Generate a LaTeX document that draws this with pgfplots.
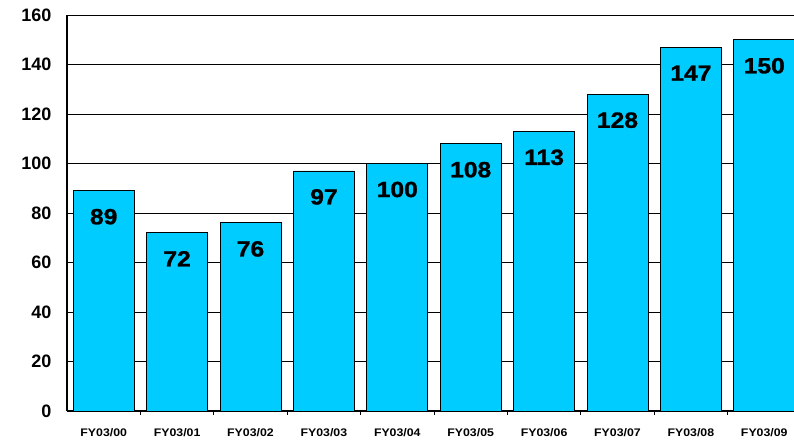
\documentclass[border=0pt]{standalone}
\usepackage{fontspec}
\setmainfont{Liberation Sans}
\newfontfamily\heavy{Liberation Sans}[BoldFeatures={FakeBold=1.2,FakeStretch=1.12}]
\newfontfamily\wide{Liberation Sans}[BoldFeatures={FakeStretch=1.12}]
\usepackage{pgfplots}
\pgfplotsset{compat=1.18}
\usetikzlibrary{calc}
\definecolor{barcyan}{HTML}{00CCFF}
\begin{document}
\begin{tikzpicture}
\begin{axis}[
  scale only axis,
  width=727pt, height=396pt,
  xmin=-0.5, xmax=9.405,
  ymin=0, ymax=160,
  ytick={0,20,...,160},
  xtick={0,...,9},
  xticklabels={FY03/00,FY03/01,FY03/02,FY03/03,FY03/04,FY03/05,FY03/06,FY03/07,FY03/08,FY03/09},
  minor xtick={0.5,1.5,...,8.5},
  axis x line*=bottom,
  axis y line*=left,
  axis line style={black, line width=1.2pt, -},
  ymajorgrids,
  grid style={black, line width=0.8pt},
  major tick length=0pt,
  minor tick length=4pt,
  xtick style={draw=none},
  minor x tick style={black, line width=0.8pt, draw=black},
  ytick style={draw=none},
  tick align=inside,
  /pgf/number format/assume math mode=true,
  yticklabel style={font=\bfseries\fontsize{18}{18}\selectfont, xshift=-12pt},
  xticklabel style={font=\wide\bfseries\fontsize{11}{11}\selectfont, yshift=-14pt},
  ybar, bar width=0.83,
  nodes near coords,
  every node near coord/.append style={font=\heavy\bfseries\fontsize{22}{22}\selectfont, anchor=center, yshift=-26pt},
]
\coordinate (bl) at (rel axis cs:0,0);
\coordinate (tr) at (rel axis cs:1,1);
\addplot[fill=barcyan, draw=black, line width=0.8pt] coordinates {
(0,89) (1,72) (2,76) (3,97) (4,100) (5,108) (6,113) (7,128) (8,147) (9,150)
};
\end{axis}
\pgfresetboundingbox
\path[use as bounding box] ($(bl)+(-67pt,-30pt)$) rectangle ($(tr)+(0pt,15pt)$);
\end{tikzpicture}
\end{document}
